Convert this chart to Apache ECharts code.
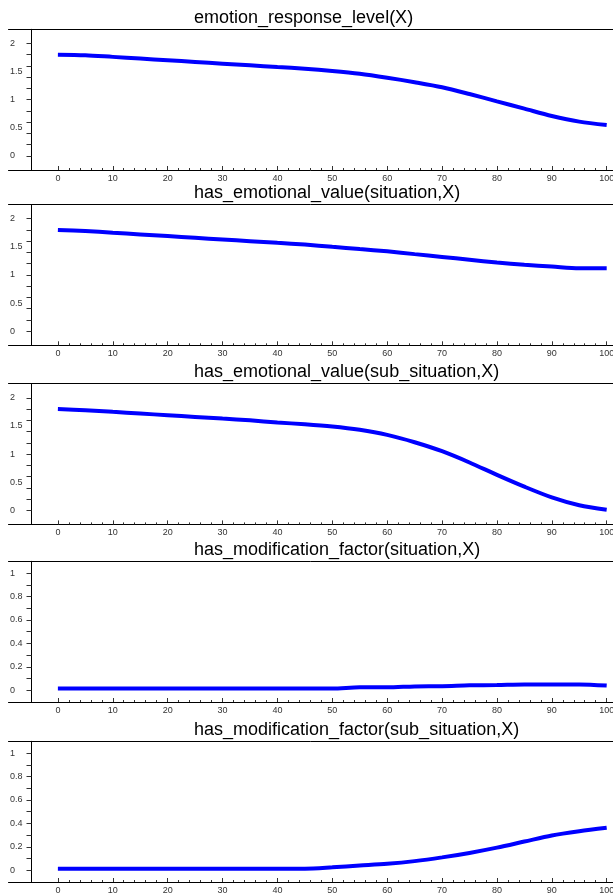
<!DOCTYPE html>
<html>
<head>
<meta charset="utf-8">
<script src="https://cdn.jsdelivr.net/npm/echarts@6/dist/echarts.min.js"></script>
<style>
  html, body { margin: 0; padding: 0; background: #fff; }
  #chart { width: 613px; height: 895px; }
</style>
</head>
<body>
<div id="chart"></div>
<script>
// ---- data ----
const xValues = [0, 5, 10, 15, 20, 25, 30, 35, 40, 45, 50, 55, 60, 65, 70, 75, 80, 85, 90, 95, 100];

const panelTitles = [
  "emotion_response_level(X)",
  "has_emotional_value(situation,X)",
  "has_emotional_value(sub_situation,X)",
  "has_modification_factor(situation,X)",
  "has_modification_factor(sub_situation,X)"
];

const emotionResponseLevel = [1.80, 1.79, 1.76, 1.73, 1.70, 1.67, 1.64, 1.61, 1.58, 1.55, 1.51, 1.46, 1.39, 1.31, 1.22, 1.10, 0.97, 0.84, 0.71, 0.61, 0.55];
const emotionalValueSituation = [1.80, 1.78, 1.75, 1.72, 1.69, 1.66, 1.63, 1.60, 1.57, 1.54, 1.50, 1.46, 1.42, 1.37, 1.32, 1.27, 1.22, 1.18, 1.15, 1.12, 1.12];
const emotionalValueSubSituation = [1.80, 1.78, 1.75, 1.72, 1.69, 1.66, 1.63, 1.60, 1.56, 1.53, 1.49, 1.43, 1.34, 1.21, 1.05, 0.85, 0.63, 0.42, 0.23, 0.09, 0.01];
const modificationFactorSituation = [0.015, 0.015, 0.015, 0.015, 0.015, 0.015, 0.015, 0.015, 0.015, 0.015, 0.015, 0.025, 0.025, 0.033, 0.035, 0.042, 0.045, 0.05, 0.05, 0.05, 0.04];
const modificationFactorSubSituation = [0.014, 0.014, 0.014, 0.014, 0.014, 0.014, 0.014, 0.014, 0.014, 0.014, 0.025, 0.04, 0.055, 0.078, 0.11, 0.148, 0.193, 0.245, 0.297, 0.333, 0.362];

const xTickLabels = [0, 10, 20, 30, 40, 50, 60, 70, 80, 90, 100];
const xMinorTicks = [0, 2, 4, 6, 8, 10, 12, 14, 16, 18, 20, 22, 24, 26, 28, 30, 32, 34, 36, 38, 40, 42, 44, 46, 48, 50, 52, 54, 56, 58, 60, 62, 64, 66, 68, 70, 72, 74, 76, 78, 80, 82, 84, 86, 88, 90, 92, 94, 96, 98, 100];

const yLabelsLarge = [0, 0.5, 1, 1.5, 2];
const yTicksLarge = [0, 0.2, 0.4, 0.6, 0.8, 1, 1.2, 1.4, 1.6, 1.8, 2];
const yLabelsSmall = [0, 0.2, 0.4, 0.6, 0.8, 1];
const yTicksSmall = [0, 0.1, 0.2, 0.3, 0.4, 0.5, 0.6, 0.7, 0.8, 0.9, 1];

const seriesValues = [emotionResponseLevel, emotionalValueSituation, emotionalValueSubSituation, modificationFactorSituation, modificationFactorSubSituation];

// ---- layout ----
const gridTops = [29.3, 204.6, 383.7, 561.3, 741.3];
const gridHeight = 140.7;
const gridLeft = 8.5;
const gridWidth = 604.5;
const xMin = -9, xMax = 101.15;
const yRanges = [[-0.25, 2.25], [-0.25, 2.25], [-0.25, 2.25], [-0.1, 1.1], [-0.1, 1.1]];
const yLabelSets = [yLabelsLarge, yLabelsLarge, yLabelsLarge, yLabelsSmall, yLabelsSmall];
const yTickSets = [yTicksLarge, yTicksLarge, yTicksLarge, yTicksSmall, yTicksSmall];

const FONT = "'Liberation Sans', Arial, sans-serif";

const grids = [], xAxes = [], yAxes = [], series = [], titles = [];
for (let i = 0; i < 5; i++) {
  grids.push({ left: gridLeft, top: gridTops[i], width: gridWidth, height: gridHeight, containLabel: false, outerBoundsMode: 'none' });
  titles.push({
    text: panelTitles[i], left: 194, top: gridTops[i] - 20.5, padding: 0,
    textStyle: { fontSize: 18, fontWeight: 'normal', color: '#000', fontFamily: FONT, lineHeight: 18 }
  });
  // main bottom axis: line, minor ticks, labels
  xAxes.push({
    type: 'value', gridIndex: i, position: 'bottom', min: xMin, max: xMax,
    axisLine: { show: true, onZero: false, lineStyle: { color: '#000', width: 1 } },
    axisTick: { show: true, inside: true, length: 2, customValues: xMinorTicks, lineStyle: { color: '#333' } },
    axisLabel: { show: true, customValues: xTickLabels, fontSize: 9, color: '#333', margin: 4, fontFamily: FONT, hideOverlap: false },
    splitLine: { show: false }
  });
  // major ticks
  xAxes.push({
    type: 'value', gridIndex: i, position: 'bottom', min: xMin, max: xMax,
    axisLine: { show: false, onZero: false },
    axisTick: { show: true, inside: true, length: 4, customValues: xTickLabels, lineStyle: { color: '#333' } },
    axisLabel: { show: false },
    splitLine: { show: false }
  });
  // top frame line
  xAxes.push({
    type: 'value', gridIndex: i, position: 'top', min: xMin, max: xMax,
    axisLine: { show: true, onZero: false, lineStyle: { color: '#000', width: 1 } },
    axisTick: { show: false }, axisLabel: { show: false }, splitLine: { show: false }
  });
  yAxes.push({
    type: 'value', gridIndex: i, position: 'left', offset: -23,
    min: yRanges[i][0], max: yRanges[i][1],
    axisLine: { show: true, onZero: false, lineStyle: { color: '#000', width: 1 } },
    axisTick: { show: true, inside: false, length: 5, customValues: yTickSets[i], lineStyle: { color: '#333' } },
    axisLabel: { show: true, customValues: yLabelSets[i], align: 'left', margin: 21.5, fontSize: 9, color: '#333', fontFamily: FONT },
    splitLine: { show: false }
  });
  series.push({
    type: 'line', xAxisIndex: i * 3, yAxisIndex: i,
    data: xValues.map((x, k) => [x, seriesValues[i][k]]),
    showSymbol: false, symbol: 'none', smooth: 0.3,
    lineStyle: { color: '#0000ff', width: 4 },
    itemStyle: { color: '#0000ff' },
    animation: false
  });
}

const chart = echarts.init(document.getElementById('chart'), null, { renderer: 'canvas' });
chart.setOption({
  backgroundColor: '#fff',
  animation: false,
  textStyle: { fontFamily: FONT },
  title: titles,
  grid: grids,
  xAxis: xAxes,
  yAxis: yAxes,
  series: series
});
</script>
</body>
</html>
